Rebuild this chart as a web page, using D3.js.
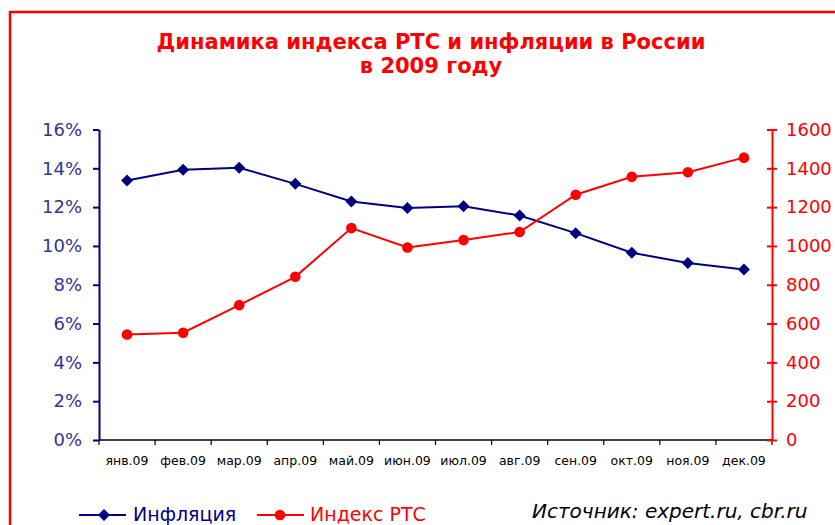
<!doctype html>
<meta charset='utf-8' />
<script src='https://cdn.jsdelivr.net/npm/d3@7'></script>
<style>
    body { margin: 0; background: #fff; }
    text { font-family: 'DejaVu Sans', Verdana, sans-serif; }
</style>
<svg></svg>
<script>
    var width = 835,
        height = 525

    var months = ['янв.09', 'фев.09', 'мар.09', 'апр.09', 'май.09', 'июн.09',
                  'июл.09', 'авг.09', 'сен.09', 'окт.09', 'ноя.09', 'дек.09']
    var inflation = [0.1337, 0.1392, 0.1403, 0.1320, 0.1229, 0.1195,
                     0.1204, 0.1157, 0.1066, 0.0965, 0.0912, 0.0878]
    var rts = [544, 553, 695, 841, 1092, 992, 1030, 1072, 1264, 1356, 1380, 1455]
    var leftTicks = [0, 0.02, 0.04, 0.06, 0.08, 0.10, 0.12, 0.14, 0.16]
    var rightTicks = [0, 200, 400, 600, 800, 1000, 1200, 1400, 1600]

    var svg = d3.select('svg')
        .attr('width', width)
        .attr('height', height)

    // red frame round the chart (runs off the right and bottom edges)
    svg.append('rect')
        .attr('x', 10).attr('y', 12)
        .attr('width', 840).attr('height', 530)
        .style('fill', 'none')
        .style('stroke', '#ff0000')
        .style('stroke-width', 2.5)

    svg.append('text')
        .attr('x', 431).attr('y', 49)
        .attr('text-anchor', 'middle')
        .style('font-weight', 'bold')
        .style('font-size', '21px')
        .style('fill', '#ff0000')
        .text('Динамика индекса РТС и инфляции в России')
    svg.append('text')
        .attr('x', 431).attr('y', 73)
        .attr('text-anchor', 'middle')
        .style('font-weight', 'bold')
        .style('font-size', '21px')
        .style('fill', '#ff0000')
        .text('в 2009 году')

    var x = d3.scaleBand().domain(months).range([99, 772])
    var yL = d3.scaleLinear().domain([0, 0.16]).range([440, 129.5])
    var yR = d3.scaleLinear().domain([0, 1600]).range([440, 129.5])
    var cx = d => x(d) + x.bandwidth() / 2

    // x axis: line, ticks between categories, labels in the middle
    var gx = svg.append('g')
    gx.append('line')
        .attr('x1', 99).attr('x2', 772)
        .attr('y1', 440).attr('y2', 440)
        .style('stroke', '#000').style('stroke-width', 1.5)
    gx.selectAll('line.tk')
        .data(months.map(m => x(m)).concat([772]))
        .enter().append('line')
        .attr('class', 'tk')
        .attr('x1', d => d).attr('x2', d => d)
        .attr('y1', 440).attr('y2', 445)
        .style('stroke', '#000').style('stroke-width', 1.2)
    gx.selectAll('text')
        .data(months)
        .enter().append('text')
        .attr('x', d => cx(d))
        .attr('y', 465)
        .attr('text-anchor', 'middle')
        .style('font-size', '12.5px')
        .style('fill', '#000')
        .text(d => d)

    // left axis
    var gl = svg.append('g')
        .attr('transform', 'translate(99,0)')
        .call(d3.axisLeft(yL).tickValues(leftTicks).tickFormat(d3.format('.0%'))
            .tickSize(6).tickSizeOuter(0).tickPadding(11))
    gl.select('.domain').style('stroke', '#000080').style('stroke-width', 2)
    gl.selectAll('.tick line').style('stroke', '#000080').style('stroke-width', 2)
    gl.selectAll('.tick text')
        .style('font-family', "'DejaVu Sans', Verdana, sans-serif")
        .style('font-size', '18px')
        .style('fill', '#333399')

    // right axis, ticks cross the line
    var gr = svg.append('g')
        .attr('transform', 'translate(772,0)')
        .call(d3.axisRight(yR).tickValues(rightTicks).tickFormat(d3.format('d'))
            .tickSize(5).tickSizeOuter(0).tickPadding(9))
    gr.select('.domain').style('stroke', '#ff0000').style('stroke-width', 2)
    gr.selectAll('.tick line').attr('x1', -5).style('stroke', '#ff0000').style('stroke-width', 2)
    gr.selectAll('.tick text')
        .style('font-family', "'DejaVu Sans', Verdana, sans-serif")
        .style('font-size', '18px')
        .style('fill', '#ff0000')

    // series
    var infLine = d3.line().x((d, i) => cx(months[i])).y(d => yL(d))
    var rtsLine = d3.line().x((d, i) => cx(months[i])).y(d => yR(d))

    svg.append('path').datum(inflation)
        .attr('d', infLine)
        .style('fill', 'none').style('stroke', '#000080').style('stroke-width', 2)
    svg.append('path').datum(rts)
        .attr('d', rtsLine)
        .style('fill', 'none').style('stroke', '#ff0000').style('stroke-width', 2)

    var diamond = d3.symbol().type(d3.symbolSquare).size(72)

    svg.selectAll('path.inf')
        .data(inflation)
        .enter().append('path')
        .attr('class', 'inf')
        .attr('d', diamond)
        .attr('transform', (d, i) => 'translate(' + cx(months[i]) + ',' + yL(d) + ') rotate(45)')
        .style('fill', '#000080')

    svg.selectAll('circle.rts')
        .data(rts)
        .enter().append('circle')
        .attr('class', 'rts')
        .attr('cx', (d, i) => cx(months[i]))
        .attr('cy', d => yR(d))
        .attr('r', 5.3)
        .style('fill', '#ff0000')

    // legend
    var legend = [
        { name: 'Инфляция', color: '#000080', shape: 'diamond', x: 79, tx: 133 },
        { name: 'Индекс РТС', color: '#ff0000', shape: 'circle', x: 257, tx: 310 }
    ]
    var lg = svg.selectAll('g.lg')
        .data(legend)
        .enter().append('g')
        .attr('class', 'lg')
    lg.append('line')
        .attr('x1', d => d.x).attr('x2', d => d.x + 47)
        .attr('y1', 515).attr('y2', 515)
        .style('stroke', d => d.color).style('stroke-width', 2)
    lg.filter(d => d.shape == 'diamond').append('path')
        .attr('d', diamond)
        .attr('transform', d => 'translate(' + (d.x + 25) + ',515) rotate(45)')
        .style('fill', d => d.color)
    lg.filter(d => d.shape == 'circle').append('circle')
        .attr('cx', d => d.x + 23).attr('cy', 515).attr('r', 5.3)
        .style('fill', d => d.color)
    lg.append('text')
        .attr('x', d => d.tx).attr('y', 521)
        .style('font-size', '19px')
        .style('fill', d => d.color)
        .text(d => d.name)

    svg.append('text')
        .attr('x', 532).attr('y', 518)
        .style('font-size', '20px')
        .style('font-style', 'italic')
        .style('fill', '#000')
        .text('Источник: expert.ru, cbr.ru')
</script>
